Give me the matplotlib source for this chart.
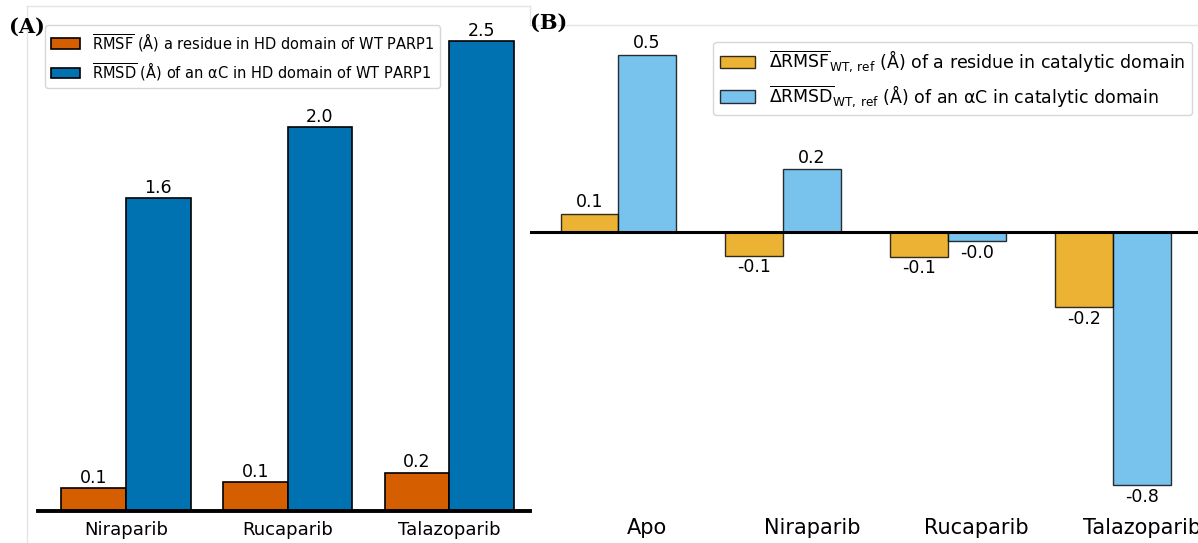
import matplotlib
matplotlib.use("Agg")
import matplotlib.pyplot as plt
from matplotlib.lines import Line2D
import numpy as np

# panel A data
drugs_a = ['Niraparib', 'Rucaparib', 'Talazoparib']
rmsf_a = [0.12, 0.15, 0.20]
rmsd_a = [1.64, 2.01, 2.46]

# panel B data
drugs_b = ['Apo', 'Niraparib', 'Rucaparib', 'Talazoparib']
drmsf_b = [0.055, -0.073, -0.076, -0.23]
drmsd_b = [0.54, 0.19, -0.03, -0.774]

W, H = 1198, 543
fig = plt.figure(figsize=(W / 100, H / 100), dpi=100)

# faint frame lines left from the two pasted panels
line_col = '#e4e4e4'
fig.add_artist(Line2D([27 / W, 27 / W], [0, 1 - 6 / H], color=line_col, lw=1))
fig.add_artist(Line2D([27 / W, 530 / W], [1 - 6 / H, 1 - 6 / H], color=line_col, lw=1))
fig.add_artist(Line2D([530 / W, 530 / W], [1 - 6 / H, 1 - 25 / H], color=line_col, lw=1))
fig.add_artist(Line2D([530 / W, 1], [1 - 25 / H, 1 - 25 / H], color=line_col, lw=1))

# ---------------- panel A ----------------
ax1 = fig.add_axes([38 / W, 1 - 511 / H, 492 / W, (511 - 18) / H])
x = np.arange(len(drugs_a))
w = 0.4
b1 = ax1.bar(x - w / 2, rmsf_a, w, color='#D55E00', edgecolor='black', linewidth=1.2,
             label=r'$\overline{\mathrm{RMSF}}$ (Å) a residue in HD domain of WT PARP1')
b2 = ax1.bar(x + w / 2, rmsd_a, w, color='#0072B2', edgecolor='black', linewidth=1.2,
             label=r'$\overline{\mathrm{RMSD}}$ (Å) of an αC in HD domain of WT PARP1')
ax1.bar_label(b1, fmt='%.1f', fontsize=12.5, padding=1)
ax1.bar_label(b2, fmt='%.1f', fontsize=12.5, padding=1)
ax1.set_xlim(-0.545, 2.5)
ax1.set_xticks(x)
ax1.set_xticklabels(drugs_a, fontsize=13)
ax1.tick_params(axis='x', length=0, pad=7)
ax1.set_yticks([])
for s in ['top', 'right', 'left']:
    ax1.spines[s].set_visible(False)
ax1.spines['bottom'].set_linewidth(2.8)
ax1.legend(loc='upper left', fontsize=10.5)
fig.text(9 / W, 1 - 27 / H, '(A)', fontsize=15, fontweight='bold', family='DejaVu Serif',
         va='center', ha='left')

# ---------------- panel B ----------------
ax2 = fig.add_axes([530 / W, 1 - 507 / H, 671 / W, (507 - 33) / H])
xb = np.arange(len(drugs_b))
wb = 0.35
c1 = ax2.bar(xb - wb / 2, drmsf_b, wb, color='#E69F00', alpha=0.8, edgecolor='black', linewidth=1,
             label=r'$\overline{\Delta\mathrm{RMSF}}_{\mathrm{WT,\,ref}}$ (Å) of a residue in catalytic domain')
c2 = ax2.bar(xb + wb / 2, drmsd_b, wb, color='#56B4E9', alpha=0.8, edgecolor='black', linewidth=1,
             label=r'$\overline{\Delta\mathrm{RMSD}}_{\mathrm{WT,\,ref}}$ (Å) of an αC in catalytic domain')
ax2.bar_label(c1, fmt='%.1f', fontsize=12.5, padding=2)
ax2.bar_label(c2, fmt='%.1f', fontsize=12.5, padding=2)
ax2.axhline(0, color='black', lw=2.2)
ax2.set_xticks(xb + wb / 2)
ax2.set_xticklabels(drugs_b, fontsize=15)
ax2.tick_params(axis='x', length=0, pad=8)
ax2.set_yticks([])
for s in ['top', 'right', 'left', 'bottom']:
    ax2.spines[s].set_visible(False)
ax2.legend(loc='upper right', fontsize=12.5)
fig.text(530 / W, 1 - 23 / H, '(B)', fontsize=15, fontweight='bold', family='DejaVu Serif',
         va='center', ha='left')

fig.savefig('out.png', dpi=100)
